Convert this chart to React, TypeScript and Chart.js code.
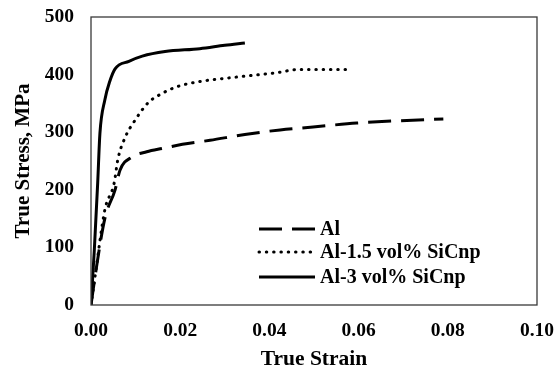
import React, { useEffect, useRef } from "react";
import { Chart, registerables } from "chart.js";

Chart.register(...registerables);

const seriesNames = ["Al", "Al-1.5 vol% SiCnp", "Al-3 vol% SiCnp"];

const alStrain = [0, 0.0009, 0.0031, 0.0054, 0.0065, 0.0092, 0.0125, 0.0161, 0.0205, 0.0267, 0.0345, 0.0424, 0.0498, 0.0596, 0.0693, 0.079];
const alStress = [0, 49, 150, 200, 234, 257, 266, 272, 279, 286, 296, 304, 309, 316, 320, 323];

const al15Strain = [0, 0.0009, 0.0031, 0.0052, 0.006, 0.0076, 0.0099, 0.0128, 0.0161, 0.0193, 0.0244, 0.0318, 0.0413, 0.0469, 0.0585];
const al15Stress = [0, 49, 165, 212, 252, 290, 321, 351, 368, 379, 388, 395, 403, 409, 409];

const al3Strain = [0, 0.00074, 0.0015, 0.002, 0.0031, 0.0042, 0.0054, 0.0085, 0.0115, 0.0166, 0.0244, 0.03, 0.0345];
const al3Stress = [0, 95, 212, 298, 356, 388, 410, 423, 432, 440, 445, 451, 455];

const xTicks = [0, 0.02, 0.04, 0.06, 0.08, 0.1];
const yTicks = [0, 100, 200, 300, 400, 500];

const toPts = (xs: number[], ys: number[]) => xs.map((x, i) => ({ x, y: ys[i] }));

const FONT = "'Liberation Serif', 'Times New Roman', serif";

export default function App() {
  const ref = useRef<HTMLCanvasElement | null>(null);
  useEffect(() => {
    if (!ref.current) return;
    const styles = [
      { borderDash: [23, 10], borderCapStyle: "butt" },
      { borderDash: [0.5, 6.8], borderCapStyle: "round" },
      { borderDash: [], borderCapStyle: "butt" },
    ];
    const borderPlugin = {
      id: "frameLegend",
      afterDraw(chart: any) {
        const { ctx, chartArea: a } = chart;
        ctx.save();
        ctx.strokeStyle = "#3a3a3a";
        ctx.lineWidth = 1.3;
        ctx.strokeRect(a.left, a.top, a.right - a.left, a.bottom - a.top);
        // legend
        const lx0 = a.left + 168;
        const lx1 = a.left + 224;
        const tx = a.left + 229;
        const ys = [a.top + 212, a.top + 235, a.top + 260];
        chart.data.datasets.forEach((ds: any, i: number) => {
          ctx.beginPath();
          ctx.strokeStyle = "#000";
          ctx.lineWidth = 3;
          ctx.lineCap = styles[i].borderCapStyle;
          ctx.setLineDash(styles[i].borderDash);
          ctx.moveTo(lx0, ys[i]);
          ctx.lineTo(lx1, ys[i]);
          ctx.stroke();
          ctx.setLineDash([]);
          ctx.fillStyle = "#000";
          ctx.font = `bold 20px ${FONT}`;
          ctx.textBaseline = "middle";
          ctx.textAlign = "left";
          ctx.fillText(ds.label, tx, ys[i] + 1);
        });
        ctx.restore();
      },
    };
    const chart = new Chart(ref.current, {
      type: "line",
      data: {
        datasets: [
          { label: seriesNames[0], data: toPts(alStrain, alStress) },
          { label: seriesNames[1], data: toPts(al15Strain, al15Stress) },
          { label: seriesNames[2], data: toPts(al3Strain, al3Stress) },
        ].map((d, i) => ({
          ...d,
          borderColor: "#000",
          backgroundColor: "#000",
          borderWidth: 3,
          borderDash: styles[i].borderDash,
          borderCapStyle: styles[i].borderCapStyle as any,
          pointRadius: 0,
          cubicInterpolationMode: "monotone" as const,
          fill: false,
        })),
      },
      options: {
        animation: false,
        responsive: false,
        maintainAspectRatio: false,
        layout: { padding: { left: 0, top: 17, right: 20, bottom: 0 } },
        plugins: { legend: { display: false }, tooltip: { enabled: false } },
        scales: {
          x: {
            type: "linear",
            min: 0,
            max: 0.1,
            afterBuildTicks: (s: any) => {
              s.ticks = xTicks.map((v) => ({ value: v }));
            },
            afterFit: (s: any) => {
              s.height = 69;
              s.paddingLeft = 0;
              s.paddingRight = 0;
            },
            grid: { display: false, drawTicks: false },
            border: { display: false },
            ticks: {
              padding: 14,
              color: "#000",
              font: { family: FONT, size: 19.5, weight: "bold" },
              callback: (v: any) => Number(v).toFixed(2),
            },
            title: {
              display: true,
              text: "True Strain",
              color: "#000",
              font: { family: FONT, size: 21.5, weight: "bold" },
              padding: { top: 4, bottom: 2 },
            },
          },
          y: {
            type: "linear",
            min: 0,
            max: 500,
            afterBuildTicks: (s: any) => {
              s.ticks = yTicks.map((v) => ({ value: v }));
            },
            afterFit: (s: any) => {
              s.width = 91;
              s.paddingTop = 0;
              s.paddingBottom = 0;
            },
            grid: { display: false, drawTicks: false },
            border: { display: false },
            ticks: {
              padding: 17,
              color: "#000",
              font: { family: FONT, size: 19.5, weight: "bold" },
            },
            title: {
              display: true,
              text: "True Stress, MPa",
              color: "#000",
              font: { family: FONT, size: 21, weight: "bold" },
              padding: { top: 11, bottom: 4 },
            },
          },
        },
      },
      plugins: [borderPlugin],
    });
    return () => chart.destroy();
  }, []);
  return (
    <div style={{ position: "fixed", left: 0, top: 0, width: 557, height: 374, background: "#fff" }}>
      <canvas ref={ref} width={557} height={374} style={{ width: 557, height: 374 }} />
    </div>
  );
}
